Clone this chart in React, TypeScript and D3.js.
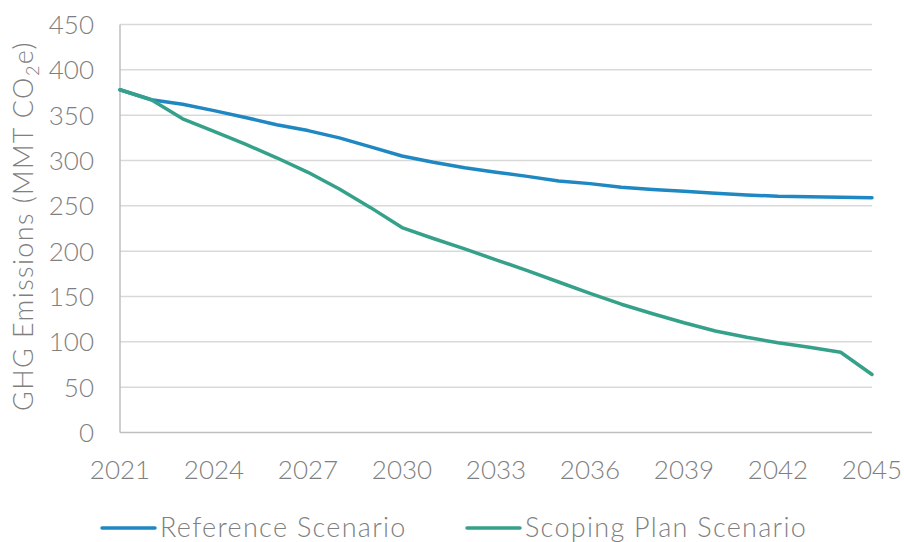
import React from "react";
import * as d3 from "d3";

const years: number[] = [2021, 2022, 2023, 2024, 2025, 2026, 2027, 2028, 2029, 2030, 2031, 2032, 2033, 2034, 2035, 2036, 2037, 2038, 2039, 2040, 2041, 2042, 2043, 2044, 2045];
const referenceScenario: number[] = [378, 367, 362, 355, 347.5, 339.5, 333, 325, 315, 305, 298, 292, 287, 282.5, 277.5, 274.5, 270.5, 268, 266, 264, 262, 260.5, 260, 259.5, 259];
const scopingPlanScenario: number[] = [378, 367, 346, 332, 318, 303, 287, 268.5, 248, 226, 214, 202.5, 190.5, 178.5, 166, 153.5, 141.5, 131, 121, 112, 105, 99, 94, 88.5, 64];
const yTicks: number[] = [0, 50, 100, 150, 200, 250, 300, 350, 400, 450];
const xTickYears: number[] = [2021, 2024, 2027, 2030, 2033, 2036, 2039, 2042, 2045];
const seriesNames: string[] = ["Reference Scenario", "Scoping Plan Scenario"];
const seriesColors: string[] = ["#1F88C2", "#35A18A"];

const W = 904;
const H = 542;
const M = { left: 120, right: 32, top: 24.5, bottom: 109.5 };
const FONT = "Lato, 'Open Sans', sans-serif";
const TEXT = "#7F7F7F";

export default function App() {
  const x = d3.scaleLinear().domain([2021, 2045]).range([M.left, W - M.right]);
  const y = d3.scaleLinear().domain([0, 450]).range([H - M.bottom, M.top]);
  const line = d3
    .line<[number, number]>()
    .x((d) => x(d[0]))
    .y((d) => y(d[1]));
  const series = [referenceScenario, scopingPlanScenario];
  const legendX = [102, 467];

  return (
    <svg
      width={W}
      height={H}
      style={{ position: "absolute", left: 0, top: 0, background: "#fff" }}
      fontFamily={FONT}
    >
      {yTicks.map((t) => (
        <g key={t}>
          {t > 0 && (
            <line x1={x(2021)} x2={x(2045)} y1={y(t)} y2={y(t)} stroke="#D9D9D9" strokeWidth={1.5} />
          )}
          <text
            x={94}
            y={y(t)}
            dy="0.36em"
            textAnchor="end"
            fontSize={26}
            fontWeight={300}
            fill={TEXT}
          >
            {t}
          </text>
        </g>
      ))}
      <line x1={x(2021)} x2={x(2045)} y1={y(0)} y2={y(0)} stroke="#BFBFBF" strokeWidth={1.5} />
      <line x1={x(2021)} x2={x(2021)} y1={y(0)} y2={y(450)} stroke="#BFBFBF" strokeWidth={1.5} />
      {xTickYears.map((yr) => (
        <text
          key={yr}
          x={x(yr)}
          y={479}
          textAnchor="middle"
          fontSize={26}
          fontWeight={300}
          fill={TEXT}
        >
          {yr}
        </text>
      ))}
      <text
        transform={`translate(33, 226) rotate(-90)`}
        textAnchor="middle"
        fontSize={27}
        fontWeight={300}
        letterSpacing={1.4}
        fill={TEXT}
      >
        GHG Emissions (MMT CO<tspan fontSize={18} dy={6}>2</tspan>
        <tspan dy={-6}>e)</tspan>
      </text>
      {series.map((s, i) => (
        <path
          key={i}
          d={line(years.map((yr, j) => [yr, s[j]] as [number, number])) || ""}
          fill="none"
          stroke={seriesColors[i]}
          strokeWidth={3.5}
          strokeLinejoin="round"
          strokeLinecap="round"
        />
      ))}
      {seriesNames.map((n, i) => (
        <g key={n}>
          <line
            x1={legendX[i]}
            x2={legendX[i] + 53}
            y1={528}
            y2={528}
            stroke={seriesColors[i]}
            strokeWidth={3.5}
            strokeLinecap="round"
          />
          <text
            x={legendX[i] + 58}
            y={537}
            fontSize={27}
            fontWeight={300}
            letterSpacing={1.3}
            fill={TEXT}
          >
            {n}
          </text>
        </g>
      ))}
    </svg>
  );
}
